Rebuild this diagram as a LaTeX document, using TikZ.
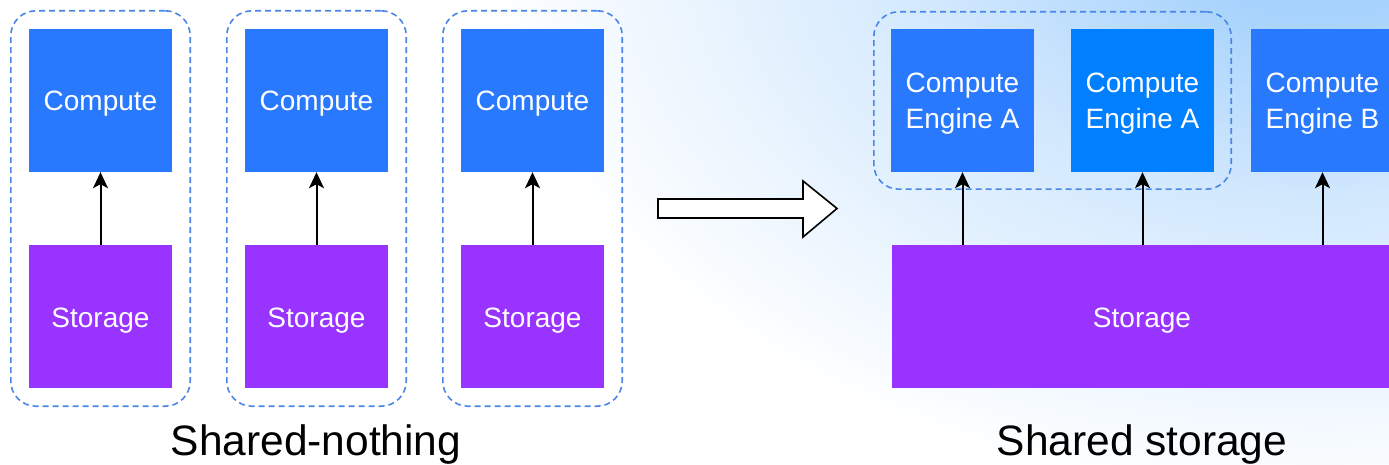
\documentclass[tikz,border=0pt]{standalone}
\usepackage{fontspec}
\setmainfont{Liberation Sans}
\usetikzlibrary{arrows.meta,fit}

\definecolor{cblue}{HTML}{2979FF}
\definecolor{cblueb}{HTML}{0080FF}
\definecolor{spurple}{HTML}{9933FF}
\definecolor{dashblue}{HTML}{4A86E8}
\definecolor{glow}{HTML}{A6D2FC}

% soft light-blue glow in the upper right corner
\pgfdeclareradialshading{bgglow}{\pgfpointorigin}{color(0bp)=(glow); color(3bp)=(glow); color(10bp)=(glow!50!white); color(21bp)=(white); color(50bp)=(white)}

\begin{document}
\begin{tikzpicture}[x=1pt,y=-1pt,
  box/.style={minimum width=143pt, minimum height=143pt, inner sep=0pt,
              text=white, align=center, font=\fontsize{28}{36}\selectfont,
              text height=21pt, text depth=0pt},
  twoline/.style={text height=57pt, text depth=0pt},
  compute/.style={box, fill=cblue},
  store/.style={box, fill=spurple},
  group/.style={draw=dashblue, dash pattern=on 6pt off 4pt, line width=1.6pt,
                rounded corners=25pt, inner sep=18pt},
  link/.style={-{Stealth[length=16pt,width=15pt,inset=4pt]}, line width=2pt},
  caption/.style={anchor=base, font=\fontsize{42.5}{50}\selectfont}]

\useasboundingbox (0,0) rectangle (1389,465);
\clip (0,0) rectangle (1389,465);
\fill[white] (0,0) rectangle (1389,465);
\shade[shading=bgglow] (1320,-70) ellipse [x radius=1000, y radius=680];

% shared-nothing: one compute node per storage node
\foreach \i/\x in {1/100.5, 2/316.5, 3/532.5}{
  \node[compute] (c\i) at (\x,100.5) {Compute};
  \node[store]   (s\i) at (\x,316.5) {Storage};
  \draw[link] (s\i) -- (c\i);
  \node[group, fit=(c\i)(s\i)] (g\i) {};
}
\node[caption] (t1) at (316,455) {Shared-nothing};

% transition arrow
\draw[line width=1.6pt, fill=white, line join=miter]
  (658,199) -- (803,199) -- (803,181) -- (837,208.5) -- (803,237) -- (803,218) -- (658,218) -- cycle;

% shared storage: several engines over one storage layer
\node[store, minimum width=500pt] (S) at (1142,316.5) {Storage};
\node[compute, twoline]          (a1) at (962.5,100.5)  {Compute\\Engine A};
\node[box, twoline, fill=cblueb] (a2) at (1142.5,100.5) {Compute\\Engine A};
\node[compute, twoline]          (b1) at (1322.5,100.5) {Compute\\Engine B};
\node[group, inner sep=17pt, fit=(a1)(a2)] (ga) {};
\foreach \n in {a1,a2,b1}
  \draw[link] (\n |- S.north) -- (\n.south);
\node[caption] (t2) at (1142,455) {Shared storage};
\end{tikzpicture}
\end{document}
